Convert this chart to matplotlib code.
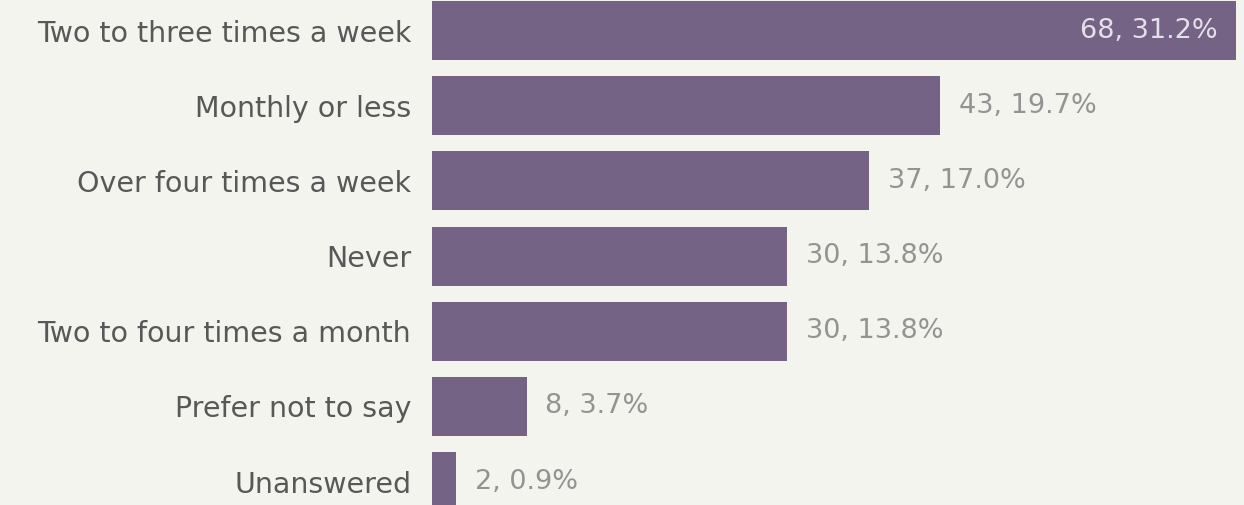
import matplotlib.pyplot as plt

# survey answers, top to bottom
categories = ["Two to three times a week", "Monthly or less", "Over four times a week",
              "Never", "Two to four times a month", "Prefer not to say", "Unanswered"]
counts = [68, 43, 37, 30, 30, 8, 2]
percents = [31.2, 19.7, 17.0, 13.8, 13.8, 3.7, 0.9]

BG = "#f4f4ee"
BAR = "#756385"

plt.rcParams['font.family'] = ['DejaVu Sans']

fig = plt.figure(figsize=(12.44, 5.05), dpi=100, facecolor=BG)
ax = fig.add_axes([432 / 1244, 0, 812 / 1244, 1])
ax.set_facecolor(BG)

ypos = list(range(len(categories)))
ax.barh(ypos, counts, height=0.785, color=BAR)

ax.set_xlim(0, 812 / 11.82)
ax.set_ylim(6.31, -0.406)

ax.set_yticks(ypos)
ax.set_yticklabels(categories, fontsize=20.5, color="#585858")
ax.tick_params(axis='y', length=0, pad=15)
ax.set_xticks([])
for s in ax.spines.values():
    s.set_visible(False)

# value labels, the biggest bar gets its label inside
for i, (c, p) in enumerate(zip(counts, percents)):
    label = f"{c}, {p:.1f}%"
    if c == max(counts):
        ax.text(c - 1.5, i, label, ha='right', va='center', fontsize=19.5, color="#e4e0ea")
    else:
        ax.text(c + 1.6, i, label, ha='left', va='center', fontsize=19.5, color="#939393")

fig.savefig("out.png", dpi=100, facecolor=BG)
